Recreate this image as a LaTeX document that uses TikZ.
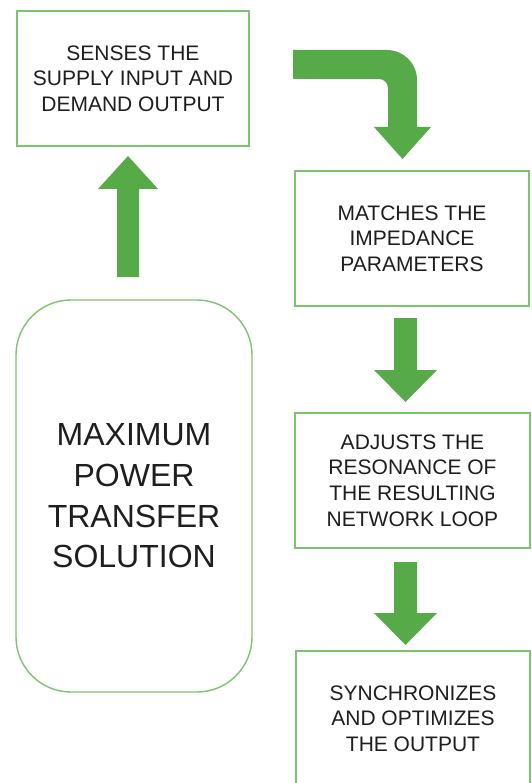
\documentclass[tikz,border=0pt]{standalone}
\usepackage{fontspec}
\setmainfont{Liberation Sans}
\definecolor{arrowgreen}{HTML}{56AA48}
\definecolor{boxgreen}{HTML}{7CC46E}
\definecolor{inkgray}{HTML}{1E1E1E}
\begin{document}
\begin{tikzpicture}[x=1pt,y=-1pt,
  stepbox/.style={draw=boxgreen, line width=1.4pt, fill=white, rectangle,
    minimum width=#1, minimum height=135, inner sep=0pt, align=center,
    text=inkgray, font=\fontsize{21}{25.6}\selectfont},
  stepbox/.default=234,
  mainbox/.style={draw=boxgreen, line width=1.4pt, fill=white, rectangle,
    rounded corners=55, minimum width=236, minimum height=392, inner sep=0pt,
    align=center, text=inkgray, font=\fontsize{32}{40.7}\selectfont},
  blockarrow/.style={fill=arrowgreen, draw=none}]
\useasboundingbox (0,0) rectangle (531,783);
\begin{scope}
\clip (0,0) rectangle (531,783);

% process steps
\node[stepbox=232] (sense) at (133,78.5)
  {SENSES THE\\SUPPLY INPUT AND\\DEMAND OUTPUT};
\node[stepbox] (match) at (412,238.5)
  {MATCHES THE\\IMPEDANCE\\PARAMETERS};
\node[stepbox=235] (adjust) at (412.5,480.5)
  {ADJUSTS THE\\RESONANCE OF\\THE RESULTING\\NETWORK LOOP};
\node[stepbox] (sync) at (413,718.5)
  {SYNCHRONIZES\\AND OPTIMIZES\\THE OUTPUT};

% central block
\node[mainbox] (mpt) at (134,496)
  {MAXIMUM\\POWER\\TRANSFER\\SOLUTION};

% upward arrow from the central block to the sensing step
\fill[blockarrow] (117,277) -- (117,189) -- (98,189) -- (128,156)
  -- (158,189) -- (139,189) -- (139,277) -- cycle;

% bent arrow from sensing to matching
\fill[blockarrow] (293,50) -- (387,50)
  .. controls (403.6,50) and (417,63.4) .. (417,80)
  -- (417,127) -- (431,127) -- (402.5,159) -- (374,127) -- (388,127)
  -- (388,88) .. controls (388,83) and (384,79) .. (379,79)
  -- (293,79) -- cycle;

% downward arrows between the right-hand steps
\fill[blockarrow] (394,318) -- (417,318) -- (417,370) -- (437,370)
  -- (405.5,402) -- (374,370) -- (394,370) -- cycle;
\fill[blockarrow] (394,562) -- (417,562) -- (417,613) -- (437,613)
  -- (405.5,645) -- (374,613) -- (394,613) -- cycle;
\end{scope}
\end{tikzpicture}
\end{document}
